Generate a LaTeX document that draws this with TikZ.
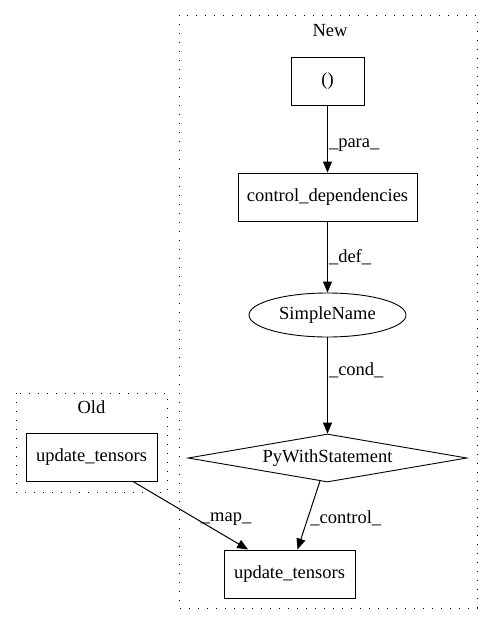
\documentclass[tikz,border=0pt]{standalone}
\usepackage{fontspec}
\setmainfont{Liberation Serif}
\usetikzlibrary{shapes.geometric, arrows, arrows.meta}
\tikzstyle{stmtbox} = [rectangle, minimum height=48pt, text centered, draw=black, line width=0.9pt]
\tikzstyle{identoval} = [ellipse, minimum width=157pt, minimum height=44pt, inner sep=0pt, draw=black, line width=0.9pt]
\tikzstyle{condbox} = [diamond, aspect=5.8, minimum width=279pt, minimum height=48pt, inner sep=0pt, draw=black, line width=0.9pt]
\tikzstyle{clusterbox} = [draw=black, line width=1pt, dash pattern=on 1.3pt off 7.7pt]
\tikzstyle{arrow} = [line width=1pt,->,>={Triangle[length=11pt,width=9pt]}]

\begin{document}
\begin{tikzpicture}
[x=1pt,y=-1pt,node distance=116pt,font=\fontsize{18.5}{22}\selectfont]
\useasboundingbox (0,0) rectangle (493,624);
% clusters
\draw [clusterbox] (179,15) rectangle (477,608);
\node (newlabel) at (330,31) {New};
\draw [clusterbox] (16,393) rectangle (167,492);
\node (oldlabel) at (91.5,407) {Old};

\node (paren) [stmtbox, minimum width=73pt] at (327.5,81) {()};
\node (ctrldeps) [stmtbox, below of=paren, minimum width=179pt] {control\_dependencies};
\node (simplename) [identoval, below of=ctrldeps, yshift=-2pt] {SimpleName};
\node (withstmt) [condbox, below of=simplename, yshift=-27pt] {PyWithStatement};
\node (newupdate) [stmtbox, below of=withstmt, xshift=-38pt, minimum width=131pt] {update\_tensors};
\node (oldupdate) [stmtbox, minimum width=131pt] at (91.5,457) {update\_tensors};

\draw [arrow] (paren) -- node[right, pos=0.59, inner sep=1pt] {\_para\_} (ctrldeps);
\draw [arrow] (ctrldeps) -- node[right, pos=0.5, inner sep=1pt] {\_def\_} (simplename);
\draw [arrow] (simplename) -- node[right, pos=0.34, inner sep=1pt] {\_cond\_} (withstmt);
\draw [arrow] (withstmt) -- node[right, pos=0.54, inner sep=2pt] {\_control\_} (newupdate);
\draw [arrow] (oldupdate) -- node[right, pos=0.54, xshift=2pt, yshift=-1pt] {\_map\_} (newupdate);

\end{tikzpicture}
\end{document}
